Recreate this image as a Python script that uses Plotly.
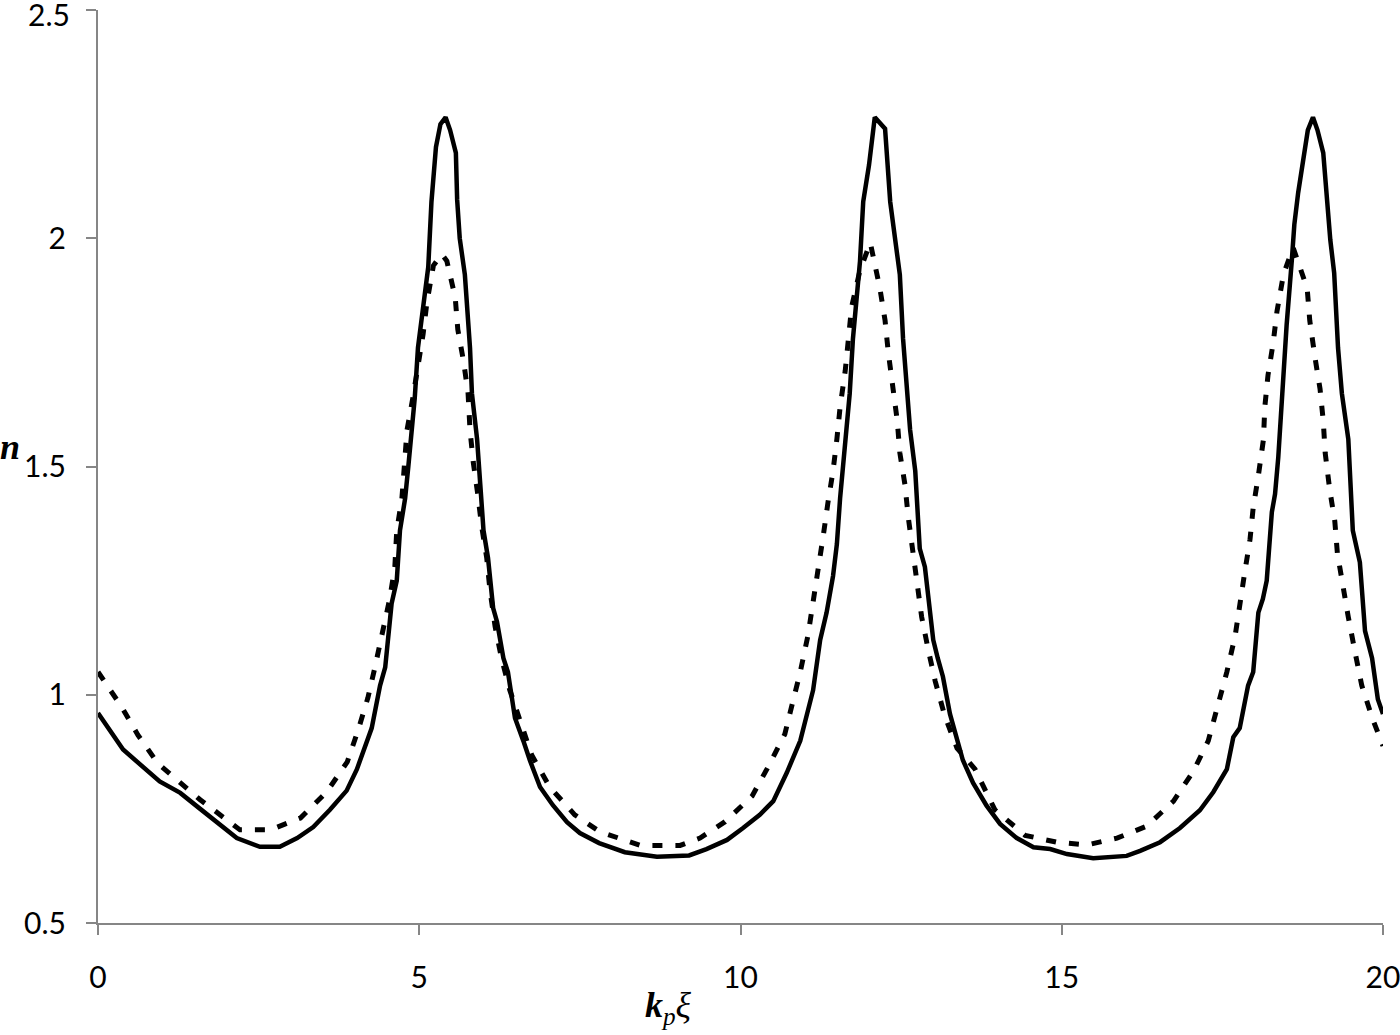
import plotly.graph_objects as go

# solid curve
solid_x = [0.00, 0.39, 0.96, 1.28, 1.59, 1.85, 2.16, 2.52, 2.83, 3.10, 3.35, 3.61, 3.87, 4.03, 4.13,
           4.26, 4.39, 4.47, 4.57, 4.65, 4.70, 4.78, 4.83, 4.88, 4.93, 4.98, 5.07, 5.14, 5.19, 5.26,
           5.33, 5.41, 5.48, 5.57, 5.59, 5.63, 5.71, 5.79, 5.82, 5.90, 5.95, 6.00, 6.07, 6.15, 6.21,
           6.31, 6.38, 6.49, 6.62, 6.72, 6.88, 7.08, 7.30, 7.50, 7.80, 8.20, 8.70, 9.20, 9.47, 9.79,
           10.04, 10.30, 10.51, 10.72, 10.93, 11.03, 11.13, 11.24, 11.34, 11.44, 11.50, 11.55, 11.60,
           11.66, 11.70, 11.75, 11.81, 11.86, 11.91, 12.00, 12.09, 12.25, 12.33, 12.48, 12.53, 12.64,
           12.72, 12.79, 12.87, 12.95, 13.00, 13.07, 13.15, 13.26, 13.37, 13.46, 13.62, 13.83, 14.04,
           14.30, 14.56, 14.82, 15.08, 15.49, 16.01, 16.22, 16.53, 16.84, 17.15, 17.36, 17.57, 17.67,
           17.77, 17.90, 17.98, 18.06, 18.13, 18.19, 18.27, 18.32, 18.37, 18.45, 18.50, 18.58, 18.62,
           18.68, 18.74, 18.83, 18.91, 18.98, 19.07, 19.13, 19.18, 19.24, 19.30, 19.36, 19.46, 19.53,
           19.64, 19.72, 19.83, 19.92, 20.00]
solid_y = [0.960, 0.880, 0.810, 0.785, 0.750, 0.720, 0.686, 0.667, 0.667, 0.686, 0.710, 0.748, 0.790,
           0.837, 0.879, 0.927, 1.020, 1.060, 1.200, 1.250, 1.360, 1.430, 1.500, 1.580, 1.650, 1.760,
           1.865, 1.937, 2.080, 2.200, 2.250, 2.265, 2.237, 2.187, 2.084, 2.000, 1.920, 1.760, 1.660,
           1.560, 1.460, 1.360, 1.300, 1.190, 1.160, 1.080, 1.050, 0.949, 0.899, 0.857, 0.798, 0.758,
           0.721, 0.697, 0.675, 0.655, 0.645, 0.648, 0.662, 0.682, 0.708, 0.737, 0.767, 0.829, 0.899,
           0.958, 1.010, 1.120, 1.180, 1.260, 1.330, 1.430, 1.500, 1.580, 1.660, 1.780, 1.880, 1.950,
           2.080, 2.160, 2.265, 2.240, 2.080, 1.920, 1.780, 1.580, 1.490, 1.320, 1.280, 1.180, 1.120,
           1.080, 1.040, 0.958, 0.899, 0.857, 0.807, 0.757, 0.717, 0.686, 0.666, 0.662, 0.651, 0.642,
           0.647, 0.658, 0.677, 0.708, 0.747, 0.787, 0.837, 0.907, 0.927, 1.020, 1.050, 1.180, 1.210,
           1.250, 1.400, 1.440, 1.520, 1.720, 1.810, 1.950, 2.030, 2.100, 2.156, 2.237, 2.265, 2.237,
           2.187, 2.084, 1.996, 1.924, 1.760, 1.660, 1.560, 1.360, 1.290, 1.140, 1.080, 0.990, 0.958]

# dotted curve
dot_x = [0.00, 0.37, 0.62, 0.93, 1.59, 2.21, 2.68, 3.15, 3.56, 3.88, 4.05, 4.20, 4.31, 4.44, 4.54,
         4.62, 4.65, 4.73, 4.81, 4.90, 4.98, 5.06, 5.12, 5.22, 5.35, 5.43, 5.56, 5.60, 5.69, 5.76,
         5.79, 5.84, 5.91, 5.97, 6.05, 6.10, 6.18, 6.28, 6.41, 6.57, 6.75, 7.03, 7.42, 7.81, 8.44,
         9.06, 9.37, 9.76, 10.18, 10.43, 10.69, 10.82, 10.93, 11.05, 11.13, 11.21, 11.29, 11.36,
         11.44, 11.50, 11.55, 11.63, 11.68, 11.73, 11.86, 12.02, 12.17, 12.25, 12.30, 12.36, 12.44,
         12.48, 12.56, 12.61, 12.69, 12.76, 12.82, 12.92, 13.03, 13.18, 13.37, 13.65, 13.96, 14.43,
         14.92, 15.39, 15.86, 16.32, 16.74, 17.05, 17.28, 17.43, 17.57, 17.70, 17.77, 17.85, 17.93,
         17.98, 18.06, 18.14, 18.16, 18.21, 18.29, 18.35, 18.45, 18.60, 18.82, 18.86, 18.94, 19.02,
         19.07, 19.10, 19.17, 19.25, 19.29, 19.37, 19.46, 19.57, 19.67, 19.83, 20.00]
dot_y = [1.050, 0.973, 0.912, 0.850, 0.770, 0.704, 0.704, 0.730, 0.787, 0.853, 0.923, 0.993, 1.060,
         1.140, 1.210, 1.280, 1.360, 1.430, 1.580, 1.650, 1.720, 1.790, 1.860, 1.940, 1.965, 1.950,
         1.870, 1.800, 1.730, 1.660, 1.580, 1.510, 1.440, 1.370, 1.300, 1.230, 1.150, 1.080, 1.010,
         0.940, 0.868, 0.798, 0.737, 0.700, 0.670, 0.670, 0.686, 0.722, 0.778, 0.842, 0.914, 0.988,
         1.050, 1.130, 1.200, 1.270, 1.350, 1.420, 1.490, 1.560, 1.630, 1.710, 1.780, 1.850, 1.930,
         1.990, 1.890, 1.820, 1.750, 1.680, 1.600, 1.530, 1.460, 1.390, 1.310, 1.240, 1.170, 1.100,
         1.030, 0.953, 0.883, 0.837, 0.748, 0.692, 0.677, 0.671, 0.686, 0.712, 0.767, 0.833, 0.899,
         0.977, 1.050, 1.130, 1.200, 1.270, 1.340, 1.410, 1.480, 1.560, 1.630, 1.700, 1.770, 1.840,
         1.920, 1.980, 1.890, 1.820, 1.740, 1.670, 1.600, 1.530, 1.450, 1.380, 1.310, 1.240, 1.170,
         1.090, 1.020, 0.950, 0.888]

x_ticks = [0, 5, 10, 15, 20]
y_ticks = [0.5, 1, 1.5, 2, 2.5]
y_labels = ["0.5", "1", "1.5", "2", "2.5"]

AXIS_GRAY = "#868686"
TICK_FONT = dict(family="Lato, Open Sans, sans-serif", size=30, color="#000000")
TITLE_FONT = dict(family="Liberation Serif, DejaVu Serif, serif", size=36, color="#000000")

fig = go.Figure()
fig.add_trace(go.Scatter(
    x=dot_x, y=dot_y, mode="lines",
    line=dict(color="#000000", width=5, dash="10px,13px"),
    showlegend=False,
))
fig.add_trace(go.Scatter(
    x=solid_x, y=solid_y, mode="lines",
    line=dict(color="#000000", width=4.5),
    showlegend=False,
))

fig.update_layout(
    width=1400, height=1035,
    paper_bgcolor="white", plot_bgcolor="white",
    margin=dict(l=98, r=17, t=10, b=112, autoexpand=False),
    showlegend=False,
)
fig.update_xaxes(
    range=[0, 20], tickvals=x_ticks, showgrid=False, zeroline=False,
    showline=True, linecolor=AXIS_GRAY, linewidth=2,
    ticks="outside", ticklen=10, tickwidth=2, tickcolor=AXIS_GRAY,
    tickfont=TICK_FONT, ticklabelstandoff=17, ticklabeloverflow="allow",
    automargin=False,
)
# top label sits right at the page edge, so it is drawn as an annotation a bit lower
fig.update_yaxes(
    range=[0.5, 2.5], tickvals=y_ticks, ticktext=y_labels[:-1] + [""],
    showgrid=False, zeroline=False,
    showline=True, linecolor=AXIS_GRAY, linewidth=2,
    ticks="outside", ticklen=10, tickwidth=2, tickcolor=AXIS_GRAY,
    tickfont=TICK_FONT, ticklabelstandoff=14, ticklabeloverflow="allow",
    automargin=False,
)
fig.add_annotation(
    text=y_labels[-1], xref="paper", yref="y", x=-0.02, y=y_ticks[-1],
    xanchor="right", yanchor="middle", yshift=-4, showarrow=False, font=TICK_FONT,
)

fig.add_annotation(
    text="<b><i>n</i></b>", xref="paper", yref="paper",
    x=-0.0685, y=0.521, showarrow=False, font=TITLE_FONT,
    xanchor="center", yanchor="middle",
)
fig.add_annotation(
    text="<b><i>k</i></b><sub><i>p</i></sub><i>ξ</i>", xref="paper", yref="paper",
    x=0.4436, y=-0.093, showarrow=False, font=TITLE_FONT,
    xanchor="center", yanchor="middle",
)

# the page's default body margin would push the figure 8px off the window
fig.write_html(
    "out.html",
    config={"displayModeBar": False},
    post_script="document.body.style.margin='0';",
)
